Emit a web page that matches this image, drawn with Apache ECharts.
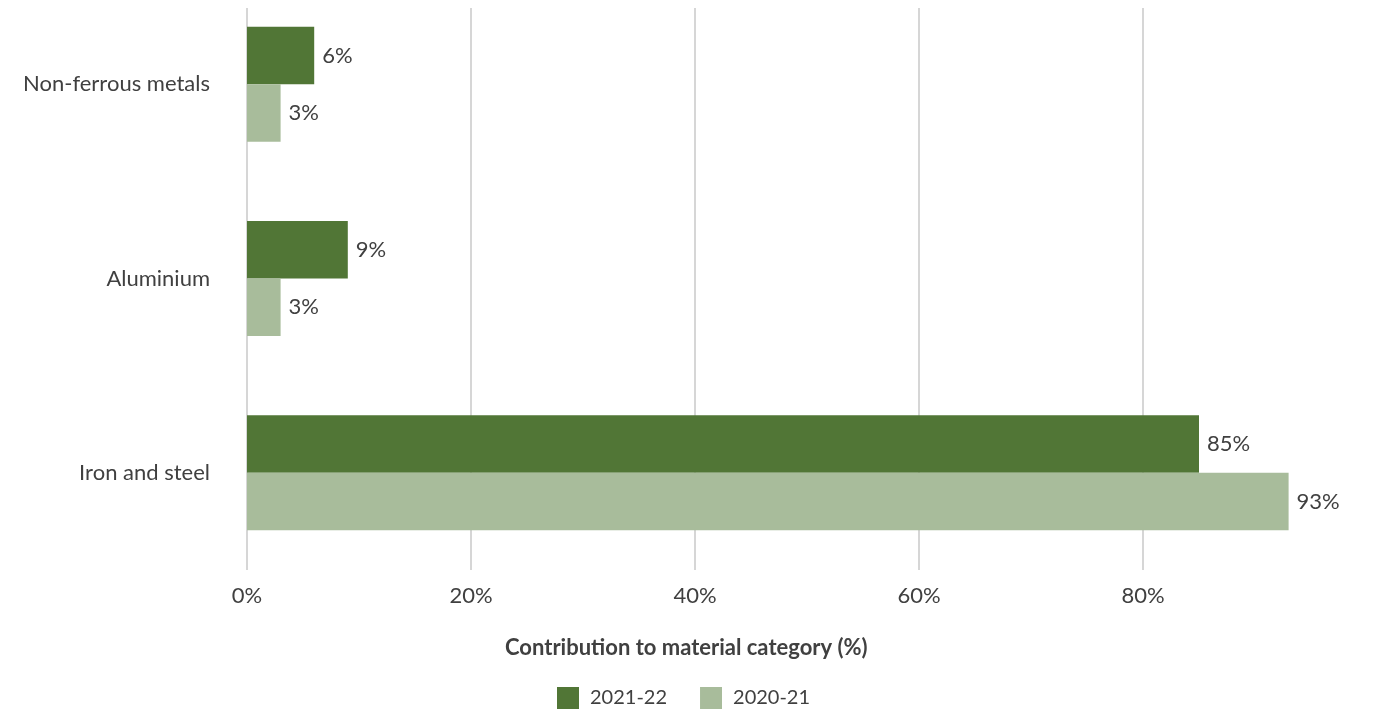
<!DOCTYPE html>
<html>
<head>
<meta charset="utf-8">
<script src="https://cdn.jsdelivr.net/npm/echarts@6/dist/echarts.min.js"></script>
<style>
  html, body { margin: 0; padding: 0; background: #fff; overflow: hidden; }
  /* canvas starts 13px above the page so the plot band can begin above the visible edge */
  #chart { position: absolute; left: 0; top: -13px; width: 1382px; height: 728px; }
</style>
</head>
<body>
<div id="chart"></div>
<script>
// Material categories, top to bottom
const categories = ['Non-ferrous metals', 'Aluminium', 'Iron and steel'];
// Share of each category (%) by year
const values2122 = [6, 9, 85];
const values2021 = [3, 3, 93];
const seriesNames = ['2021-22', '2020-21'];
const axisTitle = 'Contribution to material category (%)';

const TEXT = '#404040';
const FONT = 'Lato, "Noto Sans", sans-serif';
const colors = ['#517636', '#a8bc9b'];

const chart = echarts.init(document.getElementById('chart'), null, { renderer: 'canvas' });

function barSeries(name, data, color) {
  return {
    name: name,
    type: 'bar',
    data: data,
    barWidth: 57.5,
    barGap: '0%',
    itemStyle: { color: color },
    label: {
      show: true,
      position: 'right',
      distance: 8,
      formatter: '{c}%',
      color: TEXT,
      fontFamily: FONT,
      fontSize: 22
    },
    emphasis: { disabled: true }
  };
}

chart.setOption({
  animation: false,
  textStyle: { fontFamily: FONT, color: TEXT },
  grid: { left: 247, right: 15, top: 0, bottom: 145, containLabel: false },
  title: {
    text: axisTitle,
    left: 505,
    top: 650,
    padding: 0,
    textStyle: { fontFamily: FONT, fontSize: 22, fontWeight: 'bold', color: TEXT }
  },
  legend: {
    data: seriesNames,
    left: 552,
    top: 695,
    itemWidth: 22,
    itemHeight: 22,
    itemGap: 33,
    icon: 'rect',
    textStyle: { fontFamily: FONT, fontSize: 20, color: TEXT, padding: [0, 0, 0, 6] }
  },
  xAxis: {
    type: 'value',
    min: 0,
    max: 100,
    interval: 20,
    axisLine: { show: false },
    axisTick: { show: false },
    splitLine: { show: true, showMaxLine: false, lineStyle: { color: '#c8c8c8', width: 1.5 } },
    axisLabel: {
      showMaxLabel: false,
      formatter: '{value}%',
      margin: 15,
      color: TEXT,
      fontFamily: FONT,
      fontSize: 22
    }
  },
  yAxis: {
    type: 'category',
    data: categories,
    inverse: true,
    axisLine: { show: false },
    axisTick: { show: false },
    axisLabel: { margin: 37, color: TEXT, fontFamily: FONT, fontSize: 22 }
  },
  graphic: [{
    type: 'rect',
    z: 100,
    shape: { x: 230, y: 0, width: 1152, height: 21 },
    style: { fill: '#ffffff' }
  }],
  series: [
    barSeries(seriesNames[0], values2122, colors[0]),
    barSeries(seriesNames[1], values2021, colors[1])
  ]
});
</script>
</body>
</html>
